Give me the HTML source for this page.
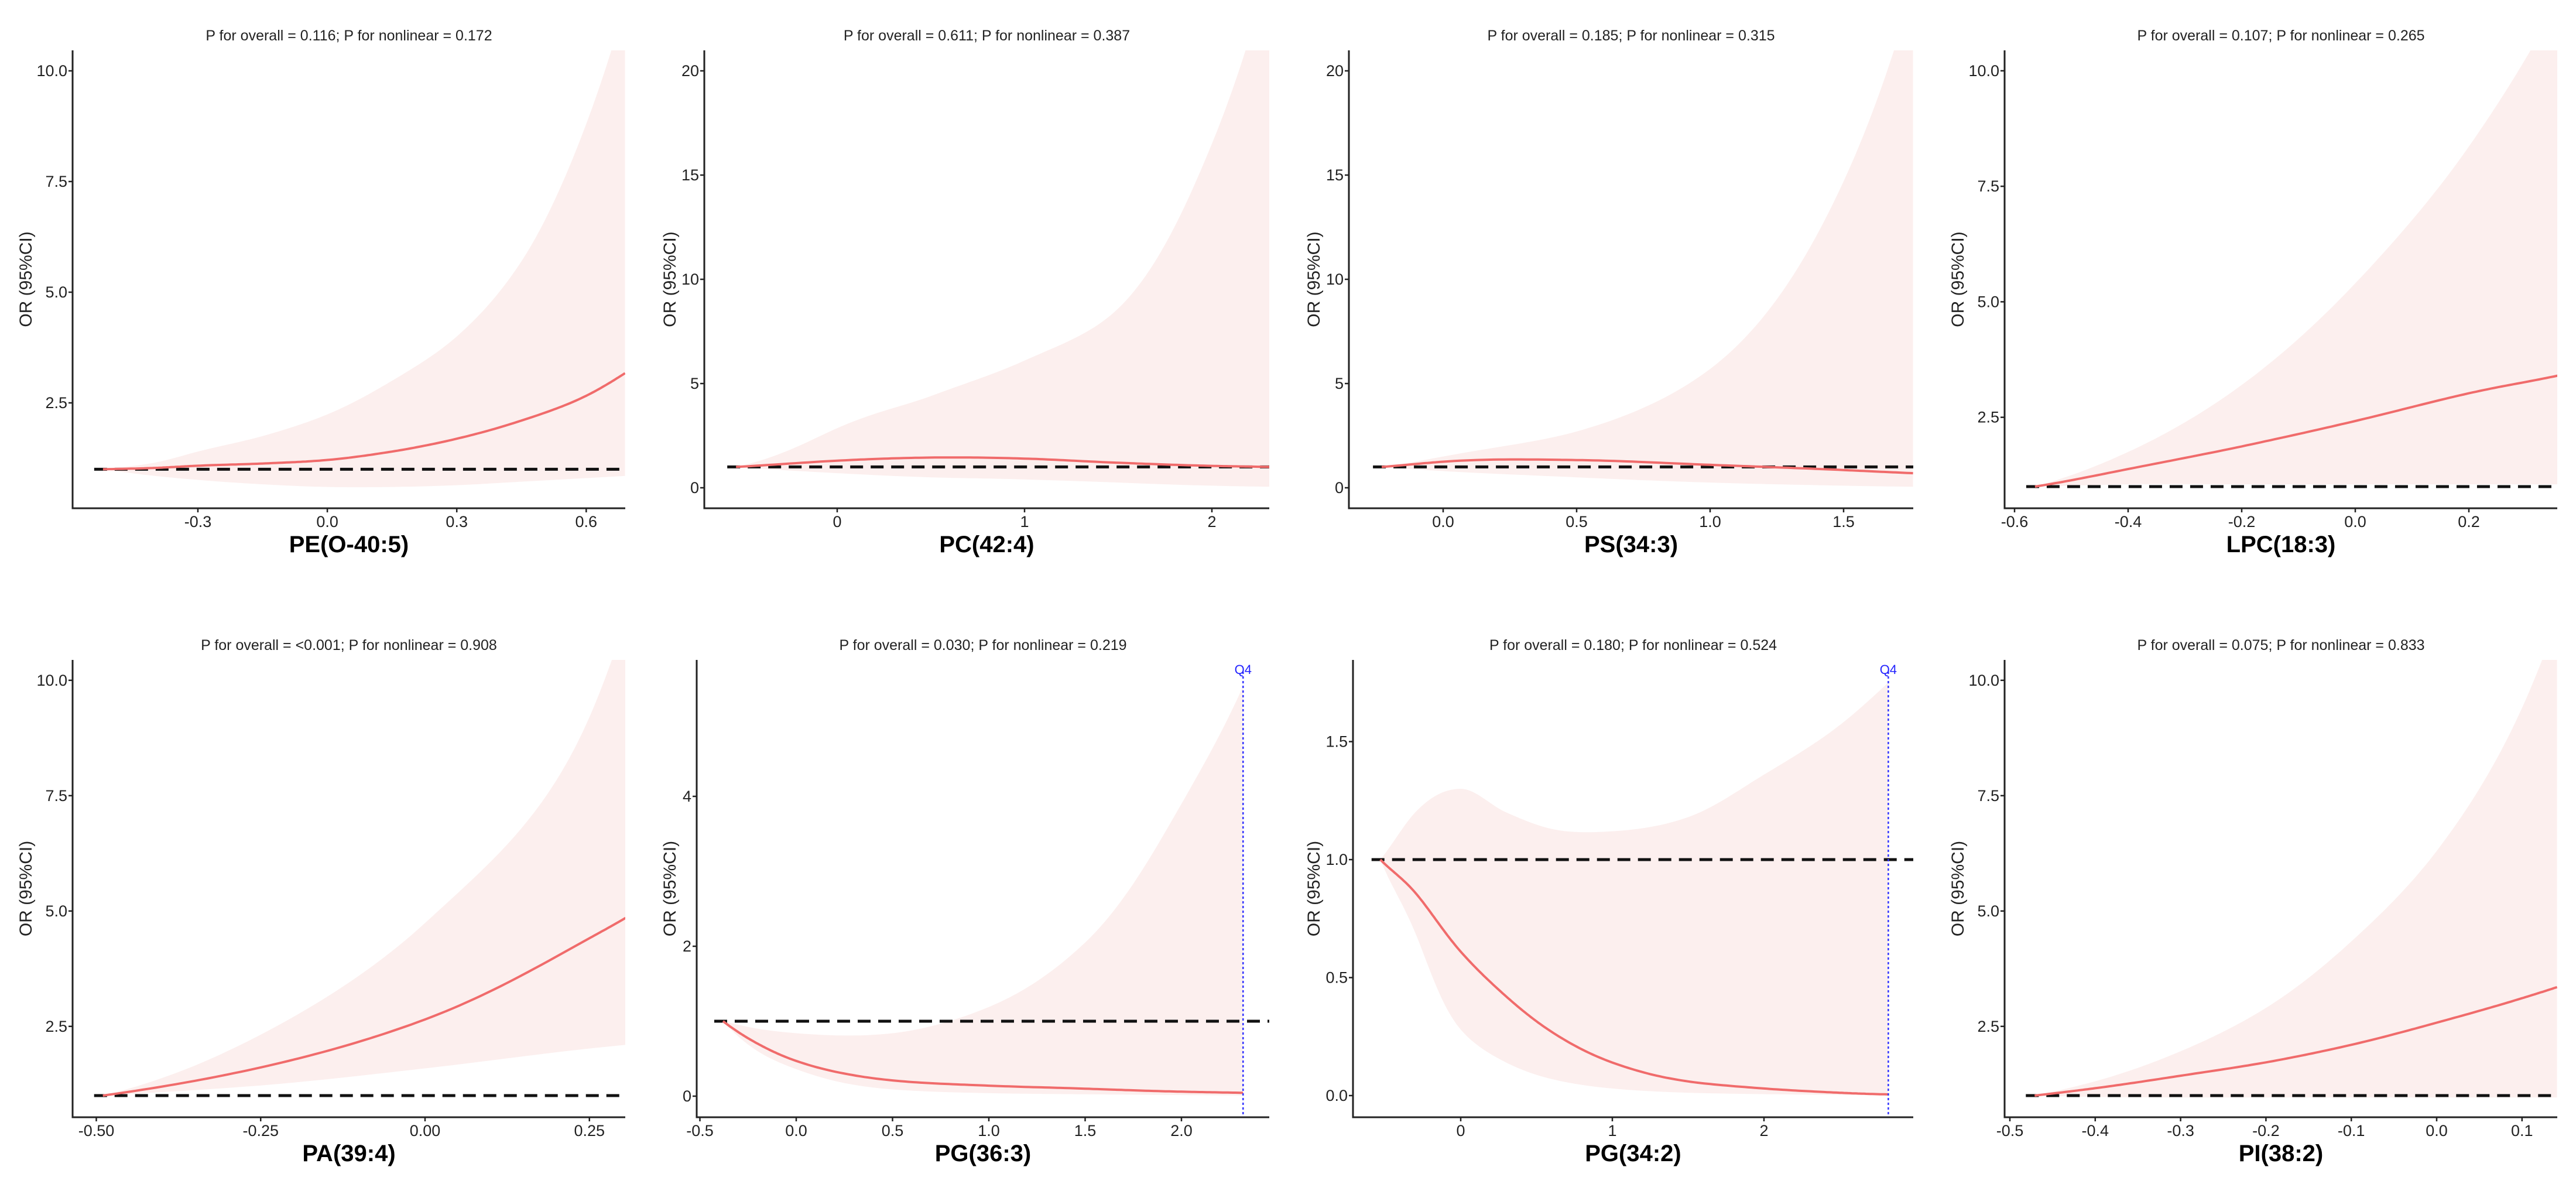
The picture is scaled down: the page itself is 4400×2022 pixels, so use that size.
<!DOCTYPE html>
<html><head><meta charset="utf-8"><style>
html,body{margin:0;padding:0;background:#fff;}
svg{display:block;font-family:"Liberation Sans",Arial,sans-serif;}
</style></head><body>
<svg id="chart" width="4400" height="2022" viewBox="0 0 4400 2022" xmlns="http://www.w3.org/2000/svg"></svg>
<script>
// ---- data ----
const titles = ["P for overall = 0.116; P for nonlinear = 0.172","P for overall = 0.611; P for nonlinear = 0.387","P for overall = 0.185; P for nonlinear = 0.315","P for overall = 0.107; P for nonlinear = 0.265","P for overall = <0.001; P for nonlinear = 0.908","P for overall = 0.030; P for nonlinear = 0.219","P for overall = 0.180; P for nonlinear = 0.524","P for overall = 0.075; P for nonlinear = 0.833"];
const xLabels = ["PE(O-40:5)","PC(42:4)","PS(34:3)","LPC(18:3)","PA(39:4)","PG(36:3)","PG(34:2)","PI(38:2)"];

const pe_x     = [-0.52,-0.4,-0.3,-0.15,0.0,0.15,0.3,0.45,0.6,0.69];
const pe_fit   = [1.0,1.03,1.08,1.13,1.21,1.4,1.69,2.1,2.66,3.17];
const pe_upper = [1.0,1.15,1.4,1.75,2.24,3.0,4.0,5.7,8.8,11.5];
const pe_lower = [1.0,0.85,0.76,0.66,0.6,0.6,0.64,0.72,0.8,0.85];

const pc_x     = [-0.54,0.0,0.5,1.0,1.5,2.0,2.31];
const pc_fit   = [1.0,1.3,1.45,1.4,1.2,1.05,1.0];
const pc_upper = [1.0,2.86,4.4,6.1,8.6,16.5,25];
const pc_lower = [1.0,0.7,0.5,0.4,0.25,0.1,0.05];

const ps_x     = [-0.23,0.0,0.5,1.0,1.5,1.76];
const ps_fit   = [1.0,1.25,1.33,1.1,0.85,0.7];
const ps_upper = [1.0,1.5,2.7,5.7,14.7,24];
const ps_lower = [1.0,0.8,0.5,0.25,0.1,0.05];

const lpc_x     = [-0.564,-0.4,-0.2,0.0,0.2,0.356];
const lpc_fit   = [1.0,1.38,1.87,2.42,3.02,3.4];
const lpc_upper = [1.0,1.75,3.2,5.4,8.36,11.5];
const lpc_lower = [1.0,1.05,1.05,1.05,1.05,1.05];

const pa_x     = [-0.49,-0.25,0.0,0.25,0.305];
const pa_fit   = [1.0,1.61,2.65,4.41,4.85];
const pa_upper = [1.0,2.32,4.74,9.2,11.3];
const pa_lower = [1.0,1.22,1.59,2.02,2.1];

const pg36_x     = [-0.38,-0.2,0.0,0.5,1.0,1.5,2.0,2.32];
const pg36_fit   = [1.0,0.7,0.47,0.21,0.14,0.1,0.06,0.045];
const pg36_upper = [1.0,0.9,0.84,0.84,1.19,2.05,3.9,5.47];
const pg36_lower = [1.0,0.6,0.36,0.09,0.04,0.025,0.015,0.01];

const pg34_x     = [-0.53,-0.3,0.0,0.3,0.6,1.0,1.5,2.0,2.5,2.82];
const pg34_fit   = [1.0,0.86,0.61,0.42,0.27,0.14,0.06,0.03,0.012,0.005];
const pg34_upper = [1.0,1.2,1.3,1.2,1.13,1.12,1.18,1.36,1.57,1.75];
const pg34_lower = [1.0,0.69,0.28,0.14,0.07,0.03,0.012,0.006,0.003,0.002];

const pi_x     = [-0.471,-0.4,-0.3,-0.2,-0.1,0.0,0.1,0.141];
const pi_fit   = [1.0,1.16,1.43,1.72,2.1,2.58,3.11,3.35];
const pi_upper = [1.0,1.31,1.96,2.9,4.34,6.3,9.4,11.3];
const pi_lower = [1.0,0.97,0.96,0.96,0.96,0.96,0.96,0.96];

const xTicks = [[-0.3,0.0,0.3,0.6],[0,1,2],[0.0,0.5,1.0,1.5],[-0.6,-0.4,-0.2,0.0,0.2],[-0.5,-0.25,0,0.25],[-0.5,0,0.5,1,1.5,2],[0,1,2],[-0.5,-0.4,-0.3,-0.2,-0.1,0,0.1]];
const xTickLabels = [["-0.3","0.0","0.3","0.6"],["0","1","2"],["0.0","0.5","1.0","1.5"],["-0.6","-0.4","-0.2","0.0","0.2"],["-0.50","-0.25","0.00","0.25"],["-0.5","0.0","0.5","1.0","1.5","2.0"],["0","1","2"],["-0.5","-0.4","-0.3","-0.2","-0.1","0.0","0.1"]];
const yTicks = [[2.5,5,7.5,10],[0,5,10,15,20],[0,5,10,15,20],[2.5,5,7.5,10],[2.5,5,7.5,10],[0,2,4],[0,0.5,1,1.5],[2.5,5,7.5,10]];
const yTickLabels = [["2.5","5.0","7.5","10.0"],["0","5","10","15","20"],["0","5","10","15","20"],["2.5","5.0","7.5","10.0"],["2.5","5.0","7.5","10.0"],["0","2","4"],["0.0","0.5","1.0","1.5"],["2.5","5.0","7.5","10.0"]];
const q4Values = [null,null,null,null,null,2.32,2.82,null];

// ---- layout (pixels / domains) ----
const series = [
 [pe_x,pe_fit,pe_upper,pe_lower],[pc_x,pc_fit,pc_upper,pc_lower],[ps_x,ps_fit,ps_upper,ps_lower],[lpc_x,lpc_fit,lpc_upper,lpc_lower],
 [pa_x,pa_fit,pa_upper,pa_lower],[pg36_x,pg36_fit,pg36_upper,pg36_lower],[pg34_x,pg34_fit,pg34_upper,pg34_lower],[pi_x,pi_fit,pi_upper,pi_lower]];
const layout = [
 {l:124,r:1068,t:86,b:868,x0:-0.3,px0:338,xs:737,y0:10,py0:121,ys:75.6},
 {l:1203,r:2168,t:86,b:868,x0:0,px0:1430,xs:320,y0:0,py0:833,ys:35.6},
 {l:2304,r:3268,t:86,b:868,x0:0,px0:2465,xs:456,y0:0,py0:833,ys:35.6},
 {l:3424,r:4368,t:86,b:868,x0:0,px0:4023,xs:970,y0:1,py0:831,ys:78.9},
 {l:124,r:1068,t:1127,b:1908,x0:0,px0:726,xs:1123,y0:1,py0:1871,ys:78.8},
 {l:1190,r:2168,t:1127,b:1908,x0:0,px0:1360,xs:329,y0:0,py0:1872,ys:128},
 {l:2311,r:3268,t:1127,b:1908,x0:0,px0:2495,xs:259,y0:0,py0:1871,ys:403},
 {l:3424,r:4368,t:1127,b:1908,x0:0,px0:4162,xs:1458,y0:1,py0:1871,ys:78.8}];
const panelOrigins=[0,1100,2200,3300];

const NS="http://www.w3.org/2000/svg";
const svg=document.getElementById('chart');
function mk(tag,attrs,parent){const e=document.createElementNS(NS,tag);for(const k in attrs)e.setAttribute(k,attrs[k]);(parent||svg).appendChild(e);return e;}
// smooth interpolation in (x, log y) space, returns dense [x,y] value pairs
function densify(xs,ys){
  const lx=xs, ly=ys.map(v=>Math.log(Math.max(v,1e-3)));
  const out=[];
  const n=xs.length;
  const slope=i=>{
    if(i===0) return (ly[1]-ly[0])/(lx[1]-lx[0]);
    if(i===n-1) return (ly[n-1]-ly[n-2])/(lx[n-1]-lx[n-2]);
    return ((ly[i+1]-ly[i])/(lx[i+1]-lx[i])*(lx[i]-lx[i-1])+(ly[i]-ly[i-1])/(lx[i]-lx[i-1])*(lx[i+1]-lx[i]))/(lx[i+1]-lx[i-1]);
  };
  for(let i=0;i<n-1;i++){
    const h=lx[i+1]-lx[i], m0=slope(i)*h, m1=slope(i+1)*h;
    const N=24;
    for(let s=0;s<N;s++){
      const t=s/N,t2=t*t,t3=t2*t;
      const v=(2*t3-3*t2+1)*ly[i]+(t3-2*t2+t)*m0+(-2*t3+3*t2)*ly[i+1]+(t3-t2)*m1;
      out.push([lx[i]+t*h,Math.exp(v)]);
    }
  }
  out.push([xs[n-1],ys[n-1]]);
  return out;
}

layout.forEach((L,i)=>{
  const ox=panelOrigins[i%4];
  const X=v=>L.px0+(v-L.x0)*L.xs;
  const Y=v=>L.py0-(v-L.y0)*L.ys;
  const g=mk('g',{});
  
  
  const cp=mk('clipPath',{id:'clip'+i},g);
  mk('rect',{x:L.l,y:L.t,width:L.r-L.l,height:L.b-L.t},cp);
  const [xs,fit,up,lo]=series[i];
  const P=pts=>pts.map(p=>X(p[0]).toFixed(1)+","+Y(p[1]).toFixed(1)).join(" L");
  const upD=densify(xs,up), loD=densify(xs,lo).reverse();
  const band=mk('path',{d:"M"+P(upD)+" L"+P(loD)+" Z",fill:'#fcefee',stroke:'none','clip-path':'url(#clip'+i+')'},g);
  
  
  const ref=mk('line',{x1:X(xs[0])-15,x2:L.r,y1:Y(1),y2:Y(1),stroke:'#111','stroke-width':5,'stroke-dasharray':'22,13'},g);
  
  
  const fl=mk('path',{d:"M"+P(densify(xs,fit)),fill:'none',stroke:'#f06b6b','stroke-width':4,'clip-path':'url(#clip'+i+')'},g);
  
  
  if(q4Values[i]!==null){
    const qx=X(q4Values[i]);
    const ql=mk('line',{x1:qx,x2:qx,y1:L.t+20,y2:L.b,stroke:'#3333ff','stroke-width':2.5,'stroke-dasharray':'4,4'},g);
    
    
    const qt=mk('text',{x:qx,y:L.t+24,'font-size':22,fill:'#2222ff','text-anchor':'middle'},g);
    qt.textContent='Q4';
    
    
  }
  const ax=mk('path',{d:`M${L.l},${L.t} V${L.b} H${L.r}`,fill:'none',stroke:'#222','stroke-width':3},g);
  
  
  xTicks[i].forEach((v,k)=>{
    mk('line',{x1:X(v),x2:X(v),y1:L.b,y2:L.b+7,stroke:'#222','stroke-width':2.5},g);
    const t=mk('text',{x:X(v),y:L.b+32,'font-size':27,fill:'#222','text-anchor':'middle'},g);
    t.textContent=xTickLabels[i][k];
    
    
  });
  yTicks[i].forEach((v,k)=>{
    mk('line',{x1:L.l-7,x2:L.l,y1:Y(v),y2:Y(v),stroke:'#222','stroke-width':2.5},g);
    const t=mk('text',{x:L.l-9,y:Y(v)+9,'font-size':27,fill:'#222','text-anchor':'end'},g);
    t.textContent=yTickLabels[i][k];
    
    
  });
  const cx=(L.l+L.r)/2;
  const tt=mk('text',{x:cx,y:L.t-17,'font-size':25,fill:'#222','text-anchor':'middle'},g);
  tt.textContent=titles[i];
  
  
  const xl=mk('text',{x:cx,y:L.b+75,'font-size':40,'font-weight':'bold',fill:'#000','text-anchor':'middle'},g);
  xl.textContent=xLabels[i];
  
  
  const ly=(L.t+L.b)/2;
  const yl=mk('text',{x:ox+54,y:ly,'font-size':30,fill:'#222','text-anchor':'middle',transform:`rotate(-90 ${ox+54} ${ly})`},g);
  yl.textContent='OR (95%CI)';
  
  
});
</script>
</body></html>
